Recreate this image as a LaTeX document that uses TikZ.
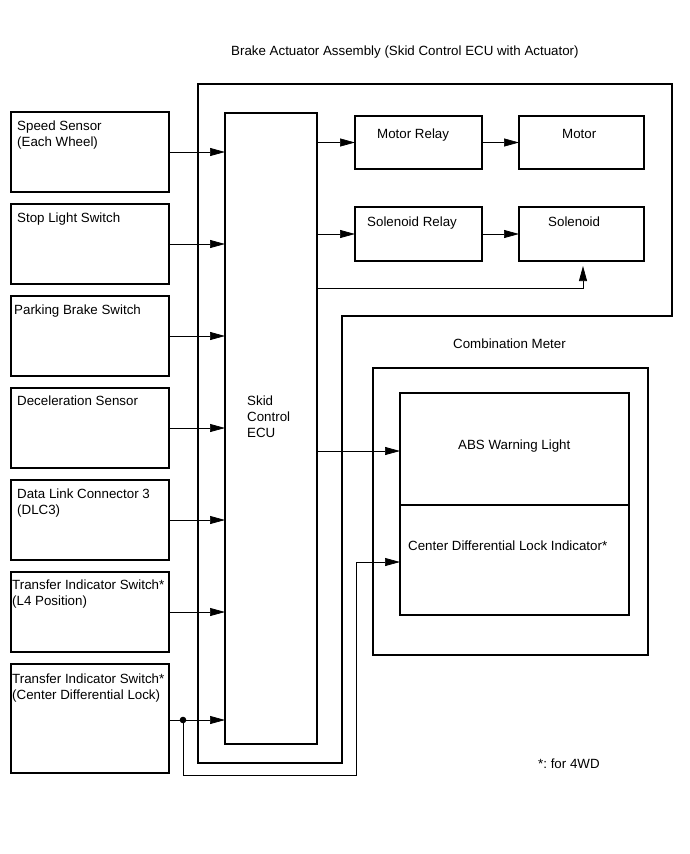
\documentclass[tikz,border=0pt]{standalone}
\usepackage{fontspec}
\setmainfont{Liberation Sans}
\frenchspacing
\usetikzlibrary{arrows.meta,calc}
\begin{document}
\begin{tikzpicture}[x=1pt,y=-1pt,
  box/.style={draw,line width=1.4pt,inner sep=0pt,outer sep=0pt,anchor=north west},
  conn/.style={line width=0.7pt,-{Triangle[length=15pt,width=8pt]}},
  lbl/.style={anchor=base west,inner sep=0pt,align=left,font=\fontsize{13.33}{16}\selectfont}]
\useasboundingbox (0,0) rectangle (690,854);
% outline of brake actuator assembly
\draw[line width=1.4pt] (198,84) -- (672,84) -- (672,316) -- (342,316) -- (342,763) -- (198,763) -- cycle;
\node[lbl] (title) at (231,55) {Brake Actuator Assembly (Skid Control ECU with Actuator)};
% left input boxes
\node[box,minimum width=158,minimum height=80] (ss) at (11,112) {};
\node[box,minimum width=158,minimum height=80] (sl) at (11,204) {};
\node[box,minimum width=158,minimum height=80] (pb) at (11,296) {};
\node[box,minimum width=158,minimum height=80] (ds) at (11,388) {};
\node[box,minimum width=158,minimum height=80] (dlc) at (11,480) {};
\node[box,minimum width=158,minimum height=80] (l4) at (11,572) {};
\node[box,minimum width=158,minimum height=109] (cdl) at (11,664) {};
\node[lbl] (tss) at (17,146) {Speed Sensor\\(Each Wheel)};
\node[lbl] (tsl) at (17,222) {Stop Light Switch};
\node[lbl] (tpb) at (14,314) {Parking Brake Switch};
\node[lbl] (tds) at (17,405) {Deceleration Sensor};
\node[lbl] (tdlc) at (17,514) {Data Link Connector 3\\(DLC3)};
\node[lbl] (tl4) at (12,605) {Transfer Indicator Switch*\\(L4 Position)};
\node[lbl] (tcdl) at (12,699) {Transfer Indicator Switch*\\(Center Differential Lock)};
% ECU
\node[box,minimum width=92,minimum height=631] (ecu) at (225,113) {};
\node[lbl] (tecu) at (247,437) {Skid\\Control\\ECU};
% actuator boxes
\node[box,minimum width=127,minimum height=53] (mr) at (355,116) {};
\node[box,minimum width=125,minimum height=53] (mo) at (519,116) {};
\node[box,minimum width=127,minimum height=54] (sr) at (355,207) {};
\node[box,minimum width=125,minimum height=54] (so) at (519,207) {};
\node[lbl] (tmr) at (377,138) {Motor Relay};
\node[lbl] (tmo) at (562,138) {Motor};
\node[lbl] (tsr) at (367,226) {Solenoid Relay};
\node[lbl] (tso) at (548,226) {Solenoid};
% combination meter
\node[box,minimum width=275,minimum height=287] (cm) at (373,368) {};
\node[lbl] (tcm) at (453,348) {Combination Meter};
\node[box,minimum width=229,minimum height=112] (abs) at (400,393) {};
\node[box,minimum width=229,minimum height=110] (cdi) at (400,505) {};
\node[lbl] (tabs) at (458,449) {ABS Warning Light};
\node[lbl] (tcdi) at (408,550) {Center Differential Lock Indicator*};
\node[lbl] (tnote) at (538,768) {*: for 4WD};
% input connectors
\draw[conn] (ss.east) -- (ss.east -| ecu.west);
\draw[conn] (sl.east) -- (sl.east -| ecu.west);
\draw[conn] (pb.east) -- (pb.east -| ecu.west);
\draw[conn] (ds.east) -- (ds.east -| ecu.west);
\draw[conn] (dlc.east) -- (dlc.east -| ecu.west);
\draw[conn] (l4.east) -- (l4.east -| ecu.west);
\coordinate (cdlout) at (169,720);
\draw[conn] (cdlout) -- (cdlout -| ecu.west);
% outputs
\draw[conn] (mr.west -| ecu.east) -- (mr.west);
\draw[conn] (mr.east) -- (mo.west);
\draw[conn] (sr.west -| ecu.east) -- (sr.west);
\draw[conn] (sr.east) -- (so.west);
\coordinate (sj) at (583,288);
\coordinate (solin) at (583,266);
\draw[conn] (ecu.east |- sj) -- (sj) -- (solin);
\coordinate (absin) at (400,451);
\draw[conn] (ecu.east |- absin) -- (absin);
% center differential lock indicator wire
\coordinate (jn) at (183,720);
\coordinate (lp) at (356,775);
\coordinate (cdiin) at (400,562);
\draw[conn] (jn) |- (lp) |- (cdiin);
\fill (jn) circle (3.3);
\end{tikzpicture}
\end{document}
